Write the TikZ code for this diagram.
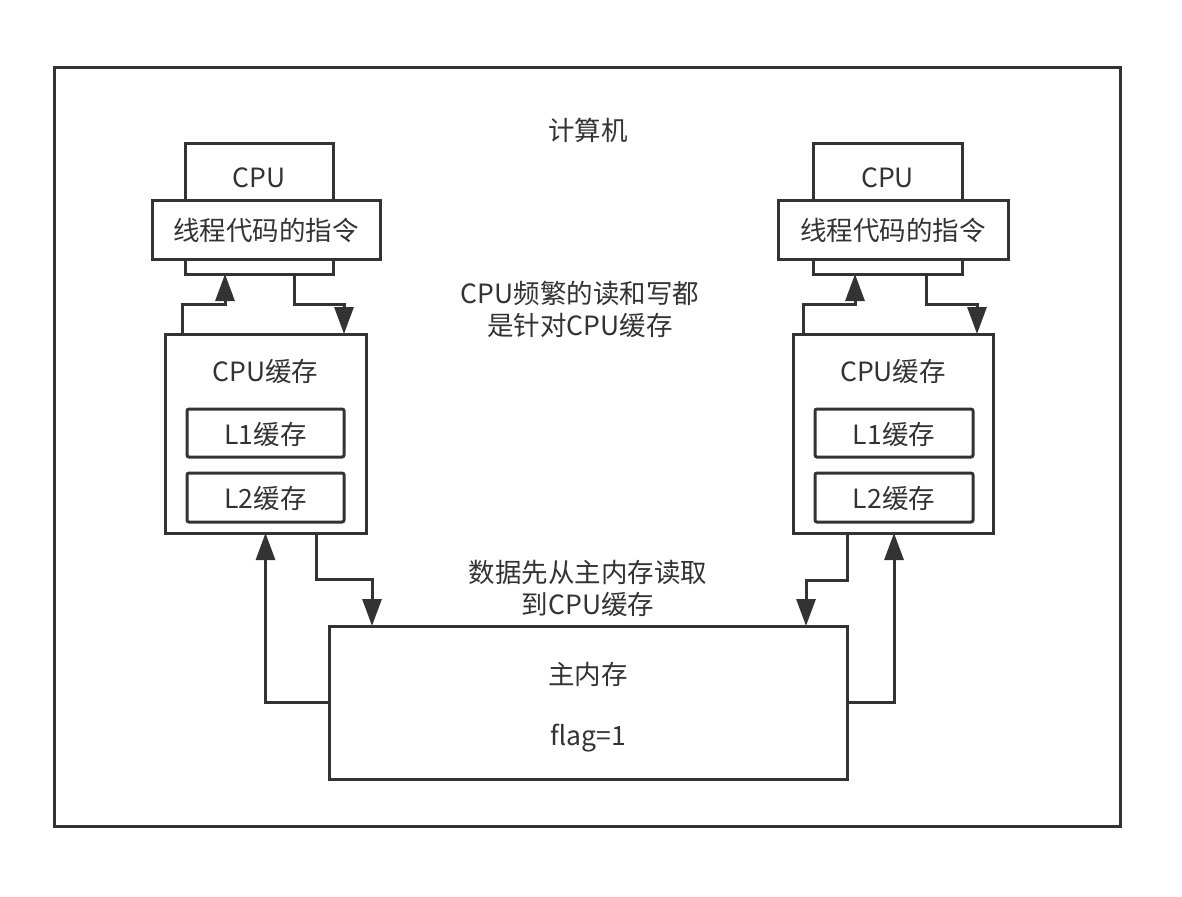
\documentclass[tikz,border=0pt]{standalone}
\usepackage{fontspec}
\setmainfont{Noto Sans CJK SC}
\usetikzlibrary{arrows.meta,calc}
\definecolor{ink}{HTML}{333333}
\tikzset{
  box/.style={draw=ink, line width=3pt, fill=white, outer sep=0pt, inner sep=0pt},
  rbox/.style={box, rounded corners=2pt},
  conn/.style={draw=ink, line width=3pt, -{Triangle[length=27pt,width=19pt]}},
  lbl/.style={text=ink, font=\fontsize{26.5}{32}\selectfont, inner sep=0pt, align=center}
}
\begin{document}
\begin{tikzpicture}[x=1pt,y=-1pt]
\useasboundingbox (0,0) rectangle (1182,896);
\fill[white] (0,0) rectangle (1182,896);
% frame
\node[box, fill=none, minimum width=1066pt, minimum height=758pt] (frame) at (587,447) {};
\node[lbl] (title) at (588,130) {计算机};
% left CPU
\node[box, minimum width=148pt, minimum height=130pt] (lcpu) at (259,209) {};
\node[lbl] (lcputxt) at (259,178) {CPU};
\node[box, minimum width=228pt, minimum height=59pt] (lins) at (266,229.5) {};
\node[lbl] (linstxt) at (266,230) {线程代码的指令};
% right CPU
\node[box, minimum width=149pt, minimum height=130pt] (rcpu) at (887.5,209) {};
\node[lbl] (rcputxt) at (887.5,178) {CPU};
\node[box, minimum width=230pt, minimum height=59pt] (rins) at (893,229.5) {};
\node[lbl] (rinstxt) at (893,230) {线程代码的指令};
% left cache
\node[box, minimum width=201pt, minimum height=199pt] (lcache) at (265.5,433.5) {};
\node[lbl] (lcachetxt) at (265.5,371) {CPU缓存};
\node[rbox, minimum width=157pt, minimum height=48pt] (ll1) at (265.5,433) {};
\node[lbl] (ll1txt) at (265.5,434) {L1缓存};
\node[rbox, minimum width=157pt, minimum height=49pt] (ll2) at (265.5,497.5) {};
\node[lbl] (ll2txt) at (265.5,498) {L2缓存};
% right cache
\node[box, minimum width=200pt, minimum height=199pt] (rcache) at (893,433.5) {};
\node[lbl] (rcachetxt) at (893,371) {CPU缓存};
\node[rbox, minimum width=158pt, minimum height=48pt] (rl1) at (894,433) {};
\node[lbl] (rl1txt) at (894,434) {L1缓存};
\node[rbox, minimum width=158pt, minimum height=49pt] (rl2) at (894,497.5) {};
\node[lbl] (rl2txt) at (894,498) {L2缓存};
% main memory
\node[box, minimum width=518pt, minimum height=153pt] (main) at (588,702.5) {};
\node[lbl] (maintxt) at (588,674) {主内存};
\node[lbl] (flagtxt) at (588,738) {flag=1};
% notes
\node[lbl] (note1) at (580,309) {CPU频繁的读和写都\\是针对CPU缓存};
\node[lbl] (note2) at (588,588) {数据先从主内存读取\\到CPU缓存};
% connectors top left
\draw[conn] ([xshift=17pt]lcache.north west) |- ([xshift=-34pt,yshift=-30pt]lcpu.south) -- ([xshift=-34pt]lcpu.south);
\draw[conn] ([xshift=35pt]lcpu.south) |- ([xshift=78.5pt,yshift=30pt]lcache.north) -- ([xshift=78.5pt]lcache.north);
% connectors top right
\draw[conn] ([xshift=10pt]rcache.north west) |- ([xshift=-32.5pt,yshift=-30pt]rcpu.south) -- ([xshift=-32.5pt]rcpu.south);
\draw[conn] ([xshift=38.5pt]rcpu.south) |- ([xshift=84pt,yshift=30pt]rcache.north) -- ([xshift=84pt]rcache.north);
% connectors bottom
\draw[conn] (main.west) -| (lcache.south);
\draw[conn] ([xshift=50.5pt]lcache.south) |- ([xshift=-216pt,yshift=47pt]main.north) -- ([xshift=-216pt]main.north);
\draw[conn] (main.east) -| ([xshift=1pt]rcache.south);
\draw[conn] ([xshift=-46pt]rcache.south) |- ([xshift=218pt,yshift=46pt]main.north) -- ([xshift=218pt]main.north);
\end{tikzpicture}
\end{document}
